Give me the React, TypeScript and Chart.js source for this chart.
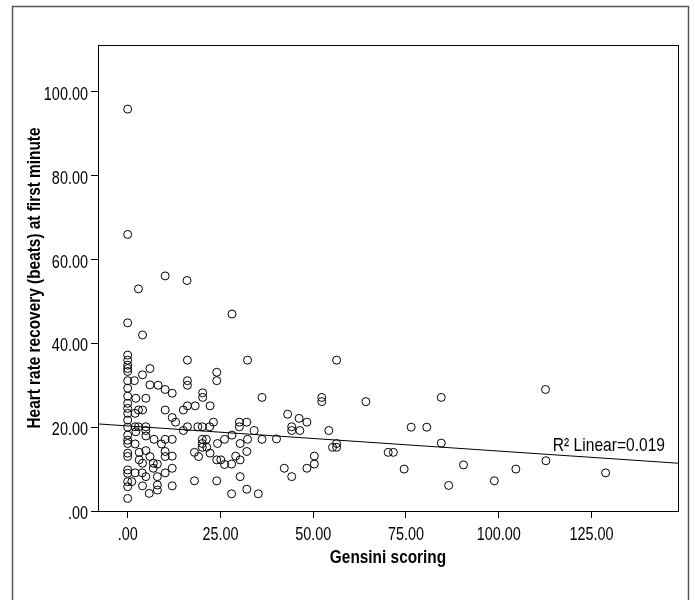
import React, { useEffect, useRef } from "react";
import { Chart, registerables } from "chart.js";

Chart.register(...registerables);

const gensiniScores: number[] = [
  0, 0, 0, 0, 0, 0, 0, 0, 0, 0, 0, 0, 0, 0, 0, 0, 0, 0, 0, 0, 0, 0, 0, 0, 0, 0,
  1.1, 1.8, 2.2, 2, 2, 2.2, 2, 2,
  2.9, 4, 2.9, 4, 4, 2.9, 3.1, 3.1, 4, 3.9, 4,
  4.9, 4.9, 4.9, 4.9, 4.9, 4.9, 6, 6, 6, 5.8, 6.9, 6.9, 7.1, 8, 8, 8, 8, 8.2, 9.1,
  10.1, 10.1, 10.1, 10.1, 10.1, 10.1, 10.1,
  12, 12, 12, 12, 12, 12, 12.9, 15, 15,
  16, 16.1, 16.1, 16.1, 16.1, 16.1, 18.2, 18, 18, 18.9, 19.1,
  20.1, 20.2, 20.2, 20.1, 20.1, 20.1, 21.2, 21.3, 22.1, 22.2, 22.2, 23.1,
  24, 24, 24.2, 24, 25.1, 24, 26.1, 26.1,
  28.1, 28.1, 28, 28, 29.1, 30.1, 30.1, 30.3, 30.3, 30.3, 32.1, 32.3, 32.3, 32.1, 32.1, 34.1, 35.2, 36.2, 36.2,
  40.1, 42.2, 43.1, 44.2, 44.2, 44.2, 46.2, 46.4, 48.3, 48.3, 50.3, 50.3, 52.3, 52.3, 54.2, 55.2, 56.3, 56.3, 56.3, 64.2,
  70.2, 71.6, 74.5, 76.4, 80.6, 84.5, 84.5, 86.5, 90.5, 98.8, 104.6, 112.6, 112.7, 128.8,
];

const hrrValues: number[] = [
  95.9, 66, 44.9, 37.2, 36, 34.8, 34, 33.3, 31.1, 29.3, 27.4, 25.7, 24.5, 23.3, 21.7, 20, 18.1, 16.9, 16.1, 13.8, 13, 9.8, 9, 7, 5.8, 3,
  7, 31.1, 26.9, 23.3, 20.1, 18.9, 16, 9.1,
  24.1, 24.1, 53, 42, 32.5, 20.1, 14, 12.2, 11.4, 9.1, 6,
  26.9, 20.1, 19.2, 17.9, 14.4, 8.2, 34, 30.1, 13, 4.2, 11.4, 10.2, 17.1, 11.2, 8.2, 6.2, 5, 30, 16,
  56.1, 29, 24.1, 17.1, 14.2, 13, 9.1,
  28.1, 22.3, 17.1, 13.1, 10.2, 6, 21.2, 24.1, 19.2,
  55, 36, 31.1, 30, 25.1, 20.1, 25.1, 14, 7.2, 20.1, 13,
  20.1, 28.2, 27.1, 17.1, 16.1, 15.2, 17.1, 15.2, 20.1, 25.1, 13.8, 21.2,
  33.1, 31.1, 16.1, 12.2, 12.2, 7.2, 17.1, 11.1,
  47, 18.1, 11.2, 4.1, 13.1, 21.2, 20.1, 16.1, 12.2, 8.2, 21.2, 36, 17.1, 14.2, 5.2, 19.2, 4.1, 27.1, 17.1,
  17.2, 10.2, 23.1, 20.1, 19.2, 8.2, 22.1, 19.2, 21.2, 10.2, 13.1, 11.2, 27.1, 26.1, 19.2, 15.2, 15.2, 16.1, 36, 26.1,
  14, 14, 10, 20, 20, 27.1, 16.2, 6.1, 11, 7.2, 10, 29, 12, 9.1,
];

const xTickValues: number[] = [0, 25, 50, 75, 100, 125];
const yTickValues: number[] = [0, 20, 40, 60, 80, 100];
const xRange: number[] = [-8, 148.3];
const yRange: number[] = [0, 111.2];

const fitIntercept = 20.3;
const fitSlope = -0.06;
const fitLabel = "R\u00B2 Linear=0.019";

const xTitle = "Gensini scoring";
const yTitle = "Heart rate recovery (beats) at first minute";

const FONT = "'Liberation Sans', Arial, sans-serif";

const fmt = (v: number) => {
  const s = Number(v).toFixed(2);
  return s.startsWith("0.") ? s.slice(1) : s;
};

function drawText(
  ctx: CanvasRenderingContext2D,
  text: string,
  x: number,
  y: number,
  font: string,
  sx: number,
  align: CanvasTextAlign,
  rot = 0
) {
  ctx.save();
  ctx.translate(x, y);
  if (rot) ctx.rotate(rot);
  ctx.scale(sx, 1);
  ctx.font = font;
  ctx.textAlign = align;
  ctx.textBaseline = "alphabetic";
  ctx.fillStyle = "#000000";
  ctx.fillText(text, 0, 0);
  ctx.restore();
}

export default function App() {
  const canvasRef = useRef<HTMLCanvasElement | null>(null);

  useEffect(() => {
    const canvas = canvasRef.current;
    if (!canvas) return;

    const framePlugin = {
      id: "frames",
      beforeDraw(chart: any) {
        const ctx = chart.ctx;
        ctx.save();
        ctx.fillStyle = "#ffffff";
        ctx.fillRect(0, 0, chart.width, chart.height);
        ctx.strokeStyle = "#555555";
        ctx.lineWidth = 1.5;
        ctx.strokeRect(12.5, 6.5, 676, 620);
        ctx.restore();
      },
      afterDraw(chart: any) {
        const { ctx, chartArea } = chart;
        const xs = chart.scales.x;
        const ys = chart.scales.y;
        ctx.save();
        ctx.strokeStyle = "#000000";
        ctx.lineWidth = 1;
        ctx.strokeRect(
          Math.round(chartArea.left) + 0.5,
          Math.round(chartArea.top) + 0.5,
          Math.round(chartArea.right - chartArea.left),
          Math.round(chartArea.bottom - chartArea.top)
        );
        ctx.restore();

        const tickFont = `19px ${FONT}`;
        const titleFont = `bold 19px ${FONT}`;
        // y tick labels
        yTickValues.forEach((v) => {
          const py = ys.getPixelForValue(v);
          drawText(ctx, fmt(v), chartArea.left - 10, py + 8, tickFont, 0.76, "right");
        });
        // x tick labels
        xTickValues.forEach((v) => {
          const px = xs.getPixelForValue(v);
          drawText(ctx, fmt(v), px, chartArea.bottom + 29, tickFont, 0.76, "center");
        });
        // axis titles
        drawText(
          ctx,
          xTitle,
          (chartArea.left + chartArea.right) / 2,
          chartArea.bottom + 52,
          titleFont,
          0.81,
          "center"
        );
        drawText(
          ctx,
          yTitle,
          40,
          (chartArea.top + chartArea.bottom) / 2,
          titleFont,
          0.81,
          "center",
          -Math.PI / 2
        );
        // fit label
        drawText(ctx, fitLabel, chartArea.right - 13, 451, tickFont, 0.82, "right");
      },
    };

    const points = gensiniScores.map((x, i) => ({ x, y: hrrValues[i] }));
    const fitLine = xRange.map((x) => ({ x, y: fitIntercept + fitSlope * x }));

    const chart = new Chart(canvas, {
      type: "scatter",
      data: {
        datasets: [
          {
            label: "points",
            data: points,
            pointRadius: 4,
            pointHoverRadius: 4,
            pointBorderWidth: 1,
            pointBorderColor: "#000000",
            pointBackgroundColor: "rgba(0,0,0,0)",
            showLine: false,
          },
          {
            label: "fit",
            type: "line",
            data: fitLine,
            borderColor: "#000000",
            borderWidth: 1,
            pointRadius: 0,
            fill: false,
          } as any,
        ],
      },
      options: {
        responsive: false,
        animation: false,
        events: [],
        layout: { padding: { top: 45, right: 17, left: 0, bottom: 0 } },
        plugins: {
          legend: { display: false },
          tooltip: { enabled: false },
        },
        scales: {
          x: {
            type: "linear",
            min: xRange[0],
            max: xRange[1],
            afterFit: (scale: any) => {
              scale.height = 89;
            },
            afterBuildTicks: (scale: any) => {
              scale.ticks = xTickValues.map((v) => ({ value: v }));
            },
            grid: {
              drawOnChartArea: false,
              drawTicks: true,
              tickLength: 7,
              color: "#000000",
            },
            border: { display: false },
            ticks: { display: false },
            title: { display: false },
          },
          y: {
            type: "linear",
            min: yRange[0],
            max: yRange[1],
            afterFit: (scale: any) => {
              scale.width = 98;
            },
            afterBuildTicks: (scale: any) => {
              scale.ticks = yTickValues.map((v) => ({ value: v }));
            },
            grid: {
              drawOnChartArea: false,
              drawTicks: true,
              tickLength: 7,
              color: "#000000",
            },
            border: { display: false },
            ticks: { display: false },
            title: { display: false },
          },
        },
      },
      plugins: [framePlugin],
    });

    return () => chart.destroy();
  }, []);

  return (
    <div style={{ position: "fixed", left: 0, top: 0, width: 695, height: 600, background: "#fff" }}>
      <canvas ref={canvasRef} width={695} height={600} style={{ display: "block" }} />
    </div>
  );
}
